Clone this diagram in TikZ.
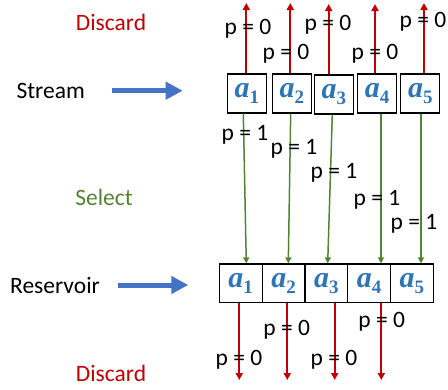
\documentclass[tikz,border=0pt]{standalone}
\usepackage{fontspec}
\setmainfont{Carlito}
\newfontfamily\afont{Liberation Serif}
\usetikzlibrary{arrows.meta}
\definecolor{dred}{RGB}{192,0,0}
\definecolor{dgreen}{RGB}{84,130,53}
\definecolor{ablue}{RGB}{46,117,182}
\definecolor{arrblue}{RGB}{68,114,196}
\newcommand{\aitem}[1]{{\color{ablue}\afont\bfseries\itshape\fontsize{30}{31}\selectfont a\raisebox{-6pt}{\upshape\fontsize{19}{19}\selectfont #1}}}
\begin{document}
\begin{tikzpicture}[x=1pt,y=-1pt,
  txt/.style={font=\fontsize{23.5}{25}\selectfont, inner sep=0pt},
  sbox/.style={draw, line width=1.2pt, minimum width=39pt, minimum height=39pt, inner sep=0pt},
  rbox/.style={draw, line width=1.2pt, minimum width=42.8pt, minimum height=38.7pt, inner sep=0pt},
  redarr/.style={dred, line width=1.8pt, -{Triangle[length=7pt,width=7pt]}},
  grnarr/.style={dgreen, line width=1.5pt, -{Triangle[length=6pt,width=6pt]}},
  bluearr/.style={arrblue, line width=5pt, -{Triangle[length=17pt,width=17pt]}}]
\useasboundingbox (0,0) rectangle (448,389);

% left labels
\node[txt, text=dred] (disc1) at (111,22.7) {Discard};
\node[txt] (stream) at (50.7,90.7) {Stream};
\node[txt, text=dgreen] (select) at (104,197.7) {Select};
\node[txt] (reservoir) at (55,285) {Reservoir};
\node[txt, text=dred] (disc2) at (111,373.3) {Discard};

\coordinate (b1s) at (111.7,90.7);
\coordinate (b1e) at (182.7,90.7);
\coordinate (b2s) at (118,285);
\coordinate (b2e) at (188.3,285);
\draw[bluearr] (b1s) -- (b1e);
\draw[bluearr] (b2s) -- (b2e);

% stream boxes
\node[sbox] (s1) at (246.8,93.4) {\aitem{1}};
\node[sbox] (s2) at (291.8,93.4) {\aitem{2}};
\node[sbox] (s3) at (333.8,94.5) {\aitem{3}};
\node[sbox] (s4) at (377,93.4) {\aitem{4}};
\node[sbox] (s5) at (420.3,93.4) {\aitem{5}};

% reservoir cells
\node[rbox] (r1) at (240.7,283.3) {\aitem{1}};
\node[rbox] (r2) at (283.5,283.3) {\aitem{2}};
\node[rbox] (r3) at (326.3,283.3) {\aitem{3}};
\node[rbox] (r4) at (369.1,283.3) {\aitem{4}};
\node[rbox] (r5) at (411.9,283.3) {\aitem{5}};

% top discard arrows
\coordinate (t1) at (246.3,3);
\coordinate (t2) at (290.3,3);
\coordinate (t3) at (328.7,4);
\coordinate (t4) at (375,4);
\coordinate (t5) at (424,3);
\draw[redarr] (s1.north -| t1) -- (t1);
\draw[redarr] (s2.north -| t2) -- (t2);
\draw[redarr] (s3.north -| t3) -- (t3);
\draw[redarr] (s4.north -| t4) -- (t4);
\draw[redarr] (s5.north -| t5) -- (t5);
\node[txt] (pt1) at (248,29) {p = 0};
\node[txt] (pt2) at (286,54) {p = 0};
\node[txt] (pt3) at (328,25) {p = 0};
\node[txt] (pt4) at (375,54) {p = 0};
\node[txt] (pt5) at (423,22) {p = 0};

% select arrows
\draw[grnarr] (s1.south -| 243.3,0) -- (r1.north -| 246.3,0);
\draw[grnarr] (s2.south -| 290.7,0) -- (r2.north -| 288.3,0);
\draw[grnarr] (s3.south -| 332.3,0) -- (r3.north -| 327.7,0);
\draw[grnarr] (s4.south -| 381,0) -- (r4.north -| 381,0);
\draw[grnarr] (s5.south -| 421,0) -- (r5.north -| 421,0);
\node[txt] (ps1) at (245,135) {p = 1};
\node[txt] (ps2) at (294,149) {p = 1};
\node[txt] (ps3) at (334,173) {p = 1};
\node[txt] (ps4) at (377,200) {p = 1};
\node[txt] (ps5) at (414,224) {p = 1};

% bottom discard arrows
\coordinate (d1) at (239.3,380);
\coordinate (d2) at (287.3,380);
\coordinate (d3) at (334.7,380);
\coordinate (d4) at (381.3,380);
\draw[redarr] (r1.south -| d1) -- (d1);
\draw[redarr] (r2.south -| d2) -- (d2);
\draw[redarr] (r3.south -| d3) -- (d3);
\draw[redarr] (r4.south -| d4) -- (d4);
\node[txt] (pb1) at (239,360) {p = 0};
\node[txt] (pb2) at (286.7,330) {p = 0};
\node[txt] (pb3) at (334,360) {p = 0};
\node[txt] (pb4) at (381.7,321.7) {p = 0};
\end{tikzpicture}
\end{document}
